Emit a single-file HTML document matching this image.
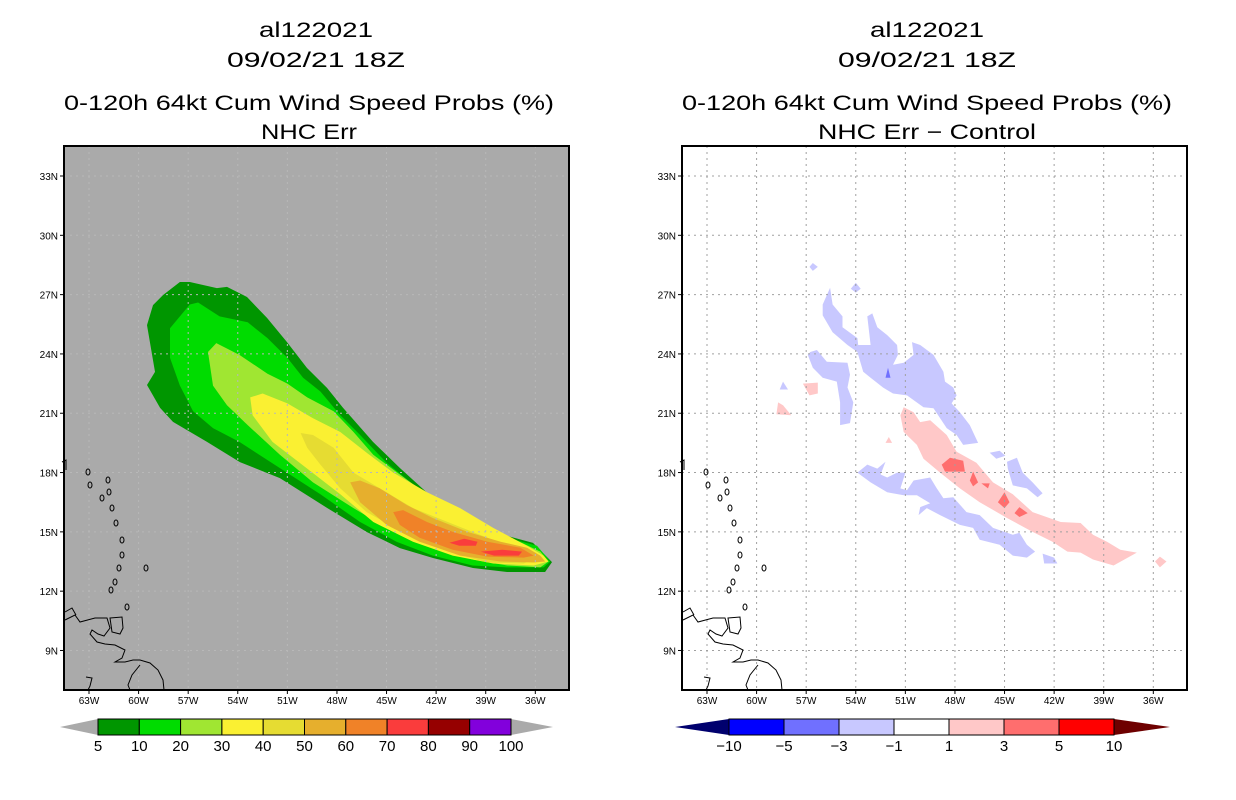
<!DOCTYPE html>
<html><head><meta charset="utf-8"><style>
html,body{margin:0;padding:0;background:#fff;}
svg{display:block;font-family:"Liberation Sans",sans-serif;}
</style></head><body>
<svg id="chart" width="1236" height="800" viewBox="0 0 1236 800" xmlns="http://www.w3.org/2000/svg">
<g font-size="21" text-anchor="middle" fill="#000">
<text x="316" y="37" textLength="114" lengthAdjust="spacingAndGlyphs">al122021</text>
<text x="316" y="67" textLength="178" lengthAdjust="spacingAndGlyphs">09/02/21 18Z</text>
<text x="309" y="110" textLength="490" lengthAdjust="spacingAndGlyphs">0-120h 64kt Cum Wind Speed Probs (%)</text>
<text x="309" y="139" textLength="96" lengthAdjust="spacingAndGlyphs">NHC Err</text>
</g>
<g font-size="21" text-anchor="middle" fill="#000">
<text x="927" y="37" textLength="114" lengthAdjust="spacingAndGlyphs">al122021</text>
<text x="927" y="67" textLength="178" lengthAdjust="spacingAndGlyphs">09/02/21 18Z</text>
<text x="927" y="110" textLength="490" lengthAdjust="spacingAndGlyphs">0-120h 64kt Cum Wind Speed Probs (%)</text>
<text x="927" y="139" textLength="218" lengthAdjust="spacingAndGlyphs">NHC Err − Control</text>
</g>
<g id="leftPanel"></g>
<g id="rightPanel"></g>
<g id="leftBar"></g>
<g id="rightBar"></g>
</svg>
<script>
const NS='http://www.w3.org/2000/svg';
const latTicks=[33,30,27,24,21,18,15,12,9];
const lonTicks=[63,60,57,54,51,48,45,42,39,36];
const probLevels=[5,10,20,30,40,50,60,70,80,90,100];
const probColors=['#009600','#00dc00','#a0e632','#faf032','#e6dc32','#e6af2d','#f08228','#fa3c3c','#960000','#8200dc'];
const diffLevels=[-10,-5,-3,-1,1,3,5,10];
const diffColors=['#0000ff','#7070ff','#c8c8ff','#ffffff','#ffc8c8','#ff6e6e','#ff0000'];
const prob5=[[57.5,27.64],[56.9,27.64],[55.26,27.33],[54.65,27.39],[53.44,26.88],[52.23,25.82],[51.02,24.6],[49.81,23.29],[48.6,22.28],[47.63,21.27],[45.82,19.55],[44.19,18.23],[42.19,16.71],[40.56,15.85],[38.56,14.99],[36.14,14.44],[34.99,13.47],[35.41,12.97],[37.71,12.97],[39.77,13.17],[42.19,13.68],[44.19,14.18],[46.18,14.99],[48.6,16.21],[51.45,17.72],[53.87,18.53],[55.86,19.55],[57.92,20.56],[58.7,21.27],[59.49,22.43],[59.01,23.09],[59.49,25.46],[59.13,26.47],[58.52,26.98]];
const prob10=[[56.9,26.5],[56.4,26.6],[55.1,25.9],[53.4,25.6],[52.2,24.8],[51.0,23.8],[50.05,22.8],[49.0,22.1],[47.8,20.9],[46.6,19.9],[45.0,18.5],[43.4,17.4],[41.8,16.4],[39.8,15.5],[37.7,14.7],[35.9,14.3],[35.1,13.5],[35.5,13.2],[37.7,13.2],[39.8,13.3],[42.2,13.8],[44.4,14.5],[46.6,15.5],[49.0,16.9],[51.4,18.2],[53.9,19.55],[55.5,20.25],[56.7,21.1],[57.5,22.4],[58.1,23.8],[58.1,25.3]];
const prob20=[[55.8,24.1],[55.3,24.55],[53.9,23.95],[52.2,23.0],[51.0,22.5],[49.8,21.8],[48.2,21.1],[47.0,20.05],[45.8,18.9],[44.2,17.9],[42.55,16.9],[41.0,16.2],[38.9,15.2],[36.7,14.4],[35.7,14.0],[35.2,13.5],[35.7,13.2],[37.7,13.3],[39.8,13.6],[42.2,14.25],[44.6,15.0],[47.0,16.2],[49.45,17.5],[51.45,18.9],[53.4,20.4],[54.65,21.4],[55.5,22.4]];
const prob30=[[53.25,21.8],[52.5,22.0],[51.0,21.5],[49.45,20.75],[47.8,20.05],[46.2,19.0],[44.6,18.0],[42.55,17.0],[40.55,16.2],[38.55,15.2],[36.5,14.3],[35.5,13.8],[35.2,13.5],[36.1,13.3],[38.55,13.4],[41.0,13.8],[43.4,14.5],[45.8,15.5],[47.8,16.9],[49.8,18.2],[51.9,19.55],[53.1,20.9]];
const prob40=[[50.2,20.0],[49.45,19.9],[48.2,19.25],[47.0,18.0],[45.4,17.2],[43.4,16.2],[41.3,15.5],[38.9,14.7],[36.9,14.0],[35.9,13.7],[36.7,13.4],[38.9,13.45],[41.3,14.0],[43.75,14.85],[46.2,16.0],[47.8,17.2],[49.0,18.4],[49.8,19.25]];
const prob50=[[47.2,17.5],[46.6,17.6],[45.4,17.2],[43.75,16.35],[42.2,15.7],[40.1,15.0],[38.1,14.5],[36.5,14.2],[35.7,13.8],[35.4,13.5],[36.1,13.45],[38.1,13.5],[40.55,13.8],[43.0,14.5],[45.0,15.35],[46.6,16.5]];
const prob60=[[44.6,16.0],[44.0,16.1],[42.55,15.5],[41.0,15.0],[38.9,14.5],[36.9,14.2],[36.1,13.8],[36.7,13.7],[38.9,13.75],[41.0,14.1],[43.0,14.7],[44.2,15.35]];
const prob70a=[[41.2,14.45],[40.3,14.65],[39.5,14.5],[39.6,14.3],[40.6,14.3]];
const prob70b=[[39.3,14.0],[38.0,14.1],[36.8,14.0],[37.0,13.8],[38.5,13.8]];
const probPolys=[[prob5,0],[prob10,1],[prob20,2],[prob30,3],[prob40,4],[prob50,5],[prob60,6],[prob70a,7],[prob70b,7]];
const diffPink=[[51.1,21.3],[50.5,21.05],[50.1,20.55],[49.5,20.65],[48.5,19.9],[47.9,19.05],[46.7,18.5],[45.7,17.5],[44.5,16.9],[43.3,16.0],[41.6,15.5],[40.4,15.45],[39.65,14.85],[38.8,14.5],[38.0,14.1],[37.0,13.95],[38.4,13.3],[39.65,13.6],[40.4,13.95],[41.2,14.0],[42.1,14.5],[43.3,15.0],[44.85,15.7],[46.5,16.5],[47.7,17.2],[48.9,18.0],[49.9,18.7],[50.3,19.4],[51.1,20.05],[51.3,20.9]];
const diffPinkW1=[[58.7,21.55],[58.4,21.4],[57.9,20.9],[58.8,20.95]];
const diffPinkW2=[[57.2,22.5],[56.3,22.55],[56.3,22.0],[56.8,21.9]];
const diffPinkTip=[[35.9,13.5],[35.6,13.75],[35.2,13.5],[35.6,13.2]];
const diffPinkDot=[[52.0,19.8],[51.8,19.5],[52.2,19.5]];
const diffRed1=[[48.8,18.4],[48.3,18.75],[47.5,18.6],[47.4,18.05],[48.6,18.05]];
const diffRed2=[[46.9,18.05],[46.6,17.5],[46.9,17.3],[47.1,17.6]];
const diffRed3=[[46.4,17.45],[45.9,17.45],[46.0,17.2]];
const diffRed4=[[45.0,17.0],[44.7,16.5],[45.0,16.2],[45.4,16.5]];
const diffRed5=[[44.1,16.25],[43.6,15.95],[44.1,15.75],[44.4,15.95]];
const diffBlueN=[[55.55,27.35],[55.4,26.5],[54.8,25.9],[54.8,25.35],[53.9,24.8],[53.85,24.45],[53.1,24.45],[53.3,25.9],[53.0,26.05],[52.7,25.35],[52.1,24.95],[51.5,24.45],[51.45,23.95],[51.75,23.45],[51.1,23.55],[50.5,23.95],[50.6,24.6],[50.1,24.45],[49.3,23.95],[48.7,23.1],[48.6,22.6],[48.1,22.3],[47.9,21.9],[48.2,21.5],[47.7,21.05],[47.1,20.4],[46.6,19.5],[47.5,19.4],[47.9,19.9],[48.5,20.25],[49.3,21.25],[49.9,21.3],[50.9,21.9],[51.75,22.0],[52.35,22.3],[53.1,22.8],[53.55,23.1],[53.9,24.1],[54.5,24.45],[55.4,25.1],[56.0,25.95],[56.0,26.5]];
const diffBlueW=[[56.75,24.1],[56.35,24.2],[55.75,23.6],[54.5,23.55],[54.35,22.95],[54.5,22.3],[54.15,21.55],[54.35,20.5],[54.95,20.4],[54.95,21.55],[55.15,22.6],[56.0,22.8],[56.6,23.3],[56.9,23.95]];
const diffBlueS=[[53.9,18.0],[53.3,18.4],[52.7,18.2],[52.2,18.55],[52.5,17.9],[52.1,17.75],[51.5,18.0],[51.0,18.0],[51.3,17.2],[50.9,17.1],[50.5,17.6],[49.5,17.75],[49.1,17.2],[48.7,16.7],[48.1,16.75],[47.3,16.0],[46.5,15.85],[45.7,15.2],[44.5,14.85],[44.1,14.95],[43.65,14.35],[43.15,14.0],[43.65,13.7],[44.5,13.8],[45.3,14.35],[46.5,14.6],[46.9,15.2],[47.7,15.35],[48.9,15.85],[49.7,16.2],[50.2,15.85],[50.1,16.25],[49.5,16.45],[50.3,16.85],[51.1,16.85],[52.1,17.0],[53.1,17.5]];
const diffBlueE=[[44.85,18.55],[44.25,18.75],[43.9,18.0],[43.3,17.5],[42.7,16.95],[43.0,16.75],[43.65,17.2],[44.5,17.35],[44.8,18.2]];
const diffBlueB1=[[45.9,19.0],[45.3,19.1],[44.95,18.85],[45.5,18.7]];
const diffBlueB2=[[42.7,13.9],[42.0,13.7],[41.8,13.4],[42.6,13.4]];
const diffBlueB3=[[56.6,28.6],[56.3,28.4],[56.6,28.2],[56.8,28.4]];
const diffBlueB4=[[54.0,27.6],[53.7,27.3],[54.0,27.1],[54.3,27.3]];
const diffBlueB5=[[58.4,22.6],[58.1,22.2],[58.6,22.2]];
const diffDark=[[52.05,23.3],[51.9,22.8],[52.2,22.8]];
const diffPolys=[[diffPink,4],[diffPinkW1,4],[diffPinkW2,4],[diffPinkTip,4],[diffPinkDot,4],[diffRed1,5],[diffRed2,5],[diffRed3,5],[diffRed4,5],[diffRed5,5],[diffBlueN,2],[diffBlueW,2],[diffBlueS,2],[diffBlueE,2],[diffBlueB1,2],[diffBlueB2,2],[diffBlueB3,2],[diffBlueB4,2],[diffBlueB5,2],[diffDark,1]];

function mk(tag,attrs,parent){const e=document.createElementNS(NS,tag);for(const k in attrs)e.setAttribute(k,attrs[k]);parent.appendChild(e);return e;}
const BOX={x0:64,y0:146,w:505,h:544};
function xScale(lon,off){return off+89+(63-lon)*16.53;}
function yScale(lat){return 176+(33-lat)*19.77;}
function coast(g){
  const islands=[[88,472],[90,485],[108,480],[109,492],[102,498],[112,508],[116,523],[122,540],[122,555],[119,568],[115,582],[111,590],[146,568],[127,607]];
  islands.forEach(p=>{const e=mk('ellipse',{cx:p[0],cy:p[1],rx:2,ry:3,fill:'none',stroke:'#000','stroke-width':1},g);
  });
  const paths=['M65,620 L75,615 L80,622 L95,618 L107,618 L110,628 L104,636 L98,634 L92,630 L90,634 L97,642 L105,644 L115,645 L125,650 L122,658 L115,662 L125,662 L133,660 L140,660 L150,663 L158,670 L163,680 L164,690','M140,665 L132,675 L128,685 L130,690','M110,618 L122,617 L123,628 L120,634 L112,632 Z','M65,612 L72,608 L76,615','M86,677 L92,678 L90,686 L88,690','M62,462 L66,460 L66,470'];
  paths.forEach(d=>{const e=mk('path',{d:d,fill:'none',stroke:'#000','stroke-width':1},g);
  });
}
function panel(id,off,bg,polys,colors,name,gridColor){
  const g=document.getElementById(id);
  
  const bgr=mk('rect',{x:BOX.x0+off,y:BOX.y0,width:BOX.w,height:BOX.h,fill:bg},g);
  
  polys.forEach(pc=>{
    const pts=pc[0].map(p=>xScale(p[0],off).toFixed(1)+','+yScale(p[1]).toFixed(1)).join(' ');
    const e=mk('polygon',{points:pts,fill:colors[pc[1]]},g);
    
  });
  const grid=mk('g',{},g);
  
  latTicks.forEach(l=>{mk('line',{x1:BOX.x0+off,x2:BOX.x0+off+BOX.w,y1:yScale(l),y2:yScale(l),stroke:gridColor,'stroke-dasharray':'2,4','stroke-width':1},grid);});
  lonTicks.forEach(l=>{mk('line',{x1:xScale(l,off),x2:xScale(l,off),y1:BOX.y0,y2:BOX.y0+BOX.h,stroke:gridColor,'stroke-dasharray':'2,4','stroke-width':1},grid);});
  const cg=mk('g',{transform:'translate('+off+',0)'},g);
  
  coast(cg);
  const fr=mk('rect',{x:BOX.x0+off,y:BOX.y0,width:BOX.w,height:BOX.h,fill:'none',stroke:'#000','stroke-width':2},g);
  
  latTicks.forEach(l=>{
    mk('line',{x1:BOX.x0+off-4,x2:BOX.x0+off,y1:yScale(l),y2:yScale(l),stroke:'#000','stroke-width':1},g);
    const t=mk('text',{x:BOX.x0+off-6,y:yScale(l)+4,'font-size':10,'text-anchor':'end'},g);
    t.textContent=l+'N';
    
  });
  lonTicks.forEach(l=>{
    mk('line',{x1:xScale(l,off),x2:xScale(l,off),y1:BOX.y0+BOX.h,y2:BOX.y0+BOX.h+4,stroke:'#000','stroke-width':1},g);
    const t=mk('text',{x:xScale(l,off),y:704,'font-size':10,'text-anchor':'middle'},g);
    t.textContent=l+'W';
    
  });
}
panel('leftPanel',0,'#aaaaaa',probPolys,probColors,'left-map-panel','#b8b8b8');
panel('rightPanel',618,'#ffffff',diffPolys,diffColors,'right-map-panel','#a0a0a0');

function colorbar(id,x0,x1,tipL,tipR,levels,colors,lowC,highC,name){
  const g=document.getElementById(id);
  
  const y0=719,y1=735,ym=727,n=colors.length,w=(x1-x0)/n;
  const tl=mk('polygon',{points:tipL+','+ym+' '+x0+','+y0+' '+x0+','+y1,fill:lowC},g);
  
  const tr=mk('polygon',{points:tipR+','+ym+' '+x1+','+y0+' '+x1+','+y1,fill:highC},g);
  
  colors.forEach((c,i)=>{
    const r=mk('rect',{x:x0+i*w,y:y0,width:w,height:y1-y0,fill:c,stroke:'#000','stroke-width':1},g);
    
  });
  levels.forEach((v,i)=>{
    const t=mk('text',{x:x0+i*w,y:751,'font-size':15,'text-anchor':'middle'},g);
    t.textContent=String(v).replace('-','−');
    
  });
}
colorbar('leftBar',98,511,60,553,probLevels,probColors,'#aaaaaa','#aaaaaa','prob-colorbar');
colorbar('rightBar',729,1114,675,1170,diffLevels,diffColors,'#00006e','#6e0000','diff-colorbar');
</script>
</body></html>
